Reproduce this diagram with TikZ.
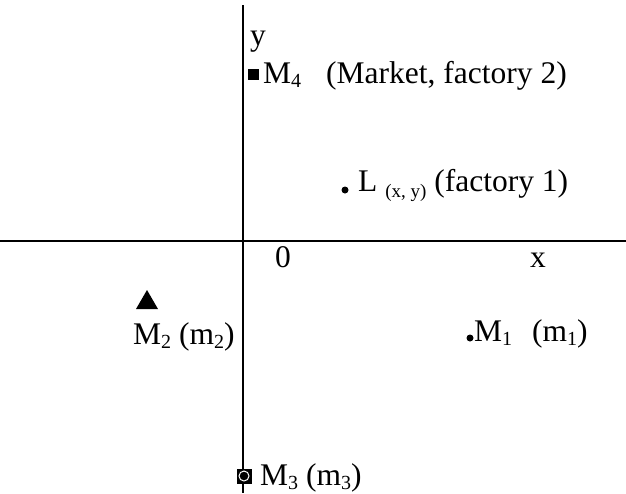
\documentclass[tikz,border=0pt]{standalone}
\usepackage{fontspec}
\setmainfont{Liberation Serif}
\newcommand\lowtxt[1]{\raisebox{-0.13em}{\fontsize{20}{20}\selectfont #1}}
\newcommand\lowsmall[1]{\raisebox{-0.2em}{\fontsize{19}{19}\selectfont #1}}
\begin{document}
\begin{tikzpicture}[x=1pt,y=-1pt,
  lbl/.style={anchor=base west,inner sep=0pt,font=\fontsize{31.5}{36}\selectfont},
  axis/.style={line width=1.6pt},
  pt/.style={circle,fill=black,inner sep=0pt,minimum size=7pt}]
\useasboundingbox (0,0) rectangle (626,493);
% axes
\coordinate (ytop) at (243,5);
\coordinate (ybot) at (243,493);
\coordinate (xl) at (0,241);
\coordinate (xr) at (626,241);
\draw[axis] (ytop) -- (ybot);
\draw[axis] (xl) -- (xr);
% axis labels
\node[lbl] (ylab) at (250,45) {y};
\node[lbl] (zero) at (275,267) {0};
\node[lbl] (xlab) at (530,267) {x};
% M4
\fill (247.5,68.5) rectangle (258.5,79.5);
\node[lbl] (m4) at (263,83) {M\lowtxt{4}\hspace{25pt}(Market, factory 2)};
% L
\node[pt] (Ldot) at (345,190) {};
\node[lbl] (L) at (358,191) {L \lowsmall{(x, y)} (factory 1)};
% M2
\fill (136,309) -- (158,309) -- (147,290) -- cycle;
\node[lbl] (m2) at (133,344) {M\lowtxt{2} (m\lowtxt{2})};
% M1
\node[pt] (M1dot) at (470,338) {};
\node[lbl] (m1) at (474,341) {M\lowtxt{1}\hspace{20pt}(m\lowtxt{1})};
% M3
\fill (236.5,468.5) rectangle (251.5,483.5);
\draw[white,line width=1pt] (244,476) circle (5pt);
\node[lbl] (m3) at (260,485) {M\lowtxt{3} (m\lowtxt{3})};
\end{tikzpicture}
\end{document}
